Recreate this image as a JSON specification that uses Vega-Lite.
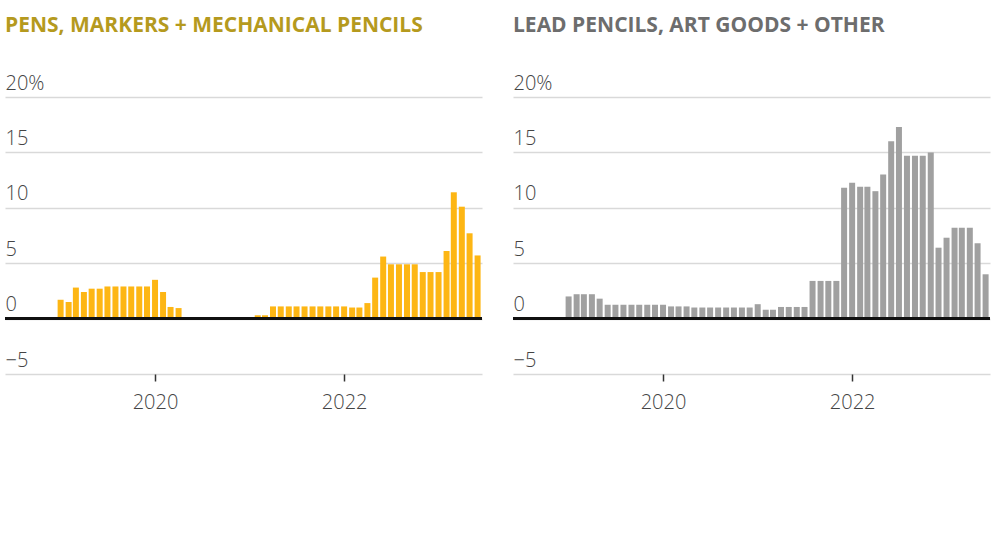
{
  "$schema": "https://vega.github.io/schema/vega-lite/v6.json",
  "padding": {"left": 4, "top": 15, "right": 0, "bottom": 12},
  "spacing": 29,
  "background": "white",
  "config": {
    "view": {"stroke": null},
    "font": "Open Sans",
    "title": {"anchor": "start", "fontSize": 21, "fontWeight": "bold", "font": "Open Sans", "offset": 37, "frame": "group"},
    "axisY": {"values": [-5, 0, 5, 10, 15, 20], "domain": false, "ticks": false, "tickSize": 0, "labelAlign": "left", "labelBaseline": "alphabetic", "labelPadding": 0, "labelOffset": -8, "gridColor": "#d9d9d9", "gridWidth": 1.5, "labelFontSize": 20, "labelColor": "#444444", "labelFont": "Open Sans", "labelFontWeight": 300, "title": null},
    "axisX": {"domain": false, "grid": false, "ticks": true, "tickColor": "#333333", "tickSize": 7, "tickWidth": 1.5, "labelFontSize": 20, "labelColor": "#444444", "labelFont": "Open Sans", "labelFontWeight": 300, "labelPadding": 11, "title": null}
  },
  "datasets": {
    "pens": [
      {"date": "2019-01-01", "value": 1.7}, {"date": "2019-02-01", "value": 1.5}, {"date": "2019-03-01", "value": 2.8}, {"date": "2019-04-01", "value": 2.4},
      {"date": "2019-05-01", "value": 2.7}, {"date": "2019-06-01", "value": 2.7}, {"date": "2019-07-01", "value": 2.9}, {"date": "2019-08-01", "value": 2.9},
      {"date": "2019-09-01", "value": 2.9}, {"date": "2019-10-01", "value": 2.9}, {"date": "2019-11-01", "value": 2.9}, {"date": "2019-12-01", "value": 2.9},
      {"date": "2020-01-01", "value": 3.5}, {"date": "2020-02-01", "value": 2.4}, {"date": "2020-03-01", "value": 1.05}, {"date": "2020-04-01", "value": 0.95},
      {"date": "2020-05-01", "value": 0.1}, {"date": "2020-06-01", "value": 0.1}, {"date": "2020-07-01", "value": 0.1}, {"date": "2020-08-01", "value": 0.1},
      {"date": "2020-09-01", "value": 0.1}, {"date": "2020-10-01", "value": 0.1}, {"date": "2020-11-01", "value": 0.1}, {"date": "2020-12-01", "value": 0.1},
      {"date": "2021-01-01", "value": 0.1}, {"date": "2021-02-01", "value": 0.3}, {"date": "2021-03-01", "value": 0.3}, {"date": "2021-04-01", "value": 1.1},
      {"date": "2021-05-01", "value": 1.1}, {"date": "2021-06-01", "value": 1.1}, {"date": "2021-07-01", "value": 1.1}, {"date": "2021-08-01", "value": 1.1},
      {"date": "2021-09-01", "value": 1.1}, {"date": "2021-10-01", "value": 1.1}, {"date": "2021-11-01", "value": 1.1}, {"date": "2021-12-01", "value": 1.1},
      {"date": "2022-01-01", "value": 1.1}, {"date": "2022-02-01", "value": 1.0}, {"date": "2022-03-01", "value": 1.0}, {"date": "2022-04-01", "value": 1.4},
      {"date": "2022-05-01", "value": 3.7}, {"date": "2022-06-01", "value": 5.6}, {"date": "2022-07-01", "value": 4.9}, {"date": "2022-08-01", "value": 4.9},
      {"date": "2022-09-01", "value": 4.9}, {"date": "2022-10-01", "value": 4.9}, {"date": "2022-11-01", "value": 4.2}, {"date": "2022-12-01", "value": 4.2},
      {"date": "2023-01-01", "value": 4.2}, {"date": "2023-02-01", "value": 6.1}, {"date": "2023-03-01", "value": 11.4}, {"date": "2023-04-01", "value": 10.1},
      {"date": "2023-05-01", "value": 7.7}, {"date": "2023-06-01", "value": 5.7}
    ],
    "lead": [
      {"date": "2019-01-01", "value": 2.0}, {"date": "2019-02-01", "value": 2.2}, {"date": "2019-03-01", "value": 2.2}, {"date": "2019-04-01", "value": 2.2},
      {"date": "2019-05-01", "value": 1.8}, {"date": "2019-06-01", "value": 1.25}, {"date": "2019-07-01", "value": 1.25}, {"date": "2019-08-01", "value": 1.25},
      {"date": "2019-09-01", "value": 1.25}, {"date": "2019-10-01", "value": 1.25}, {"date": "2019-11-01", "value": 1.25}, {"date": "2019-12-01", "value": 1.25},
      {"date": "2020-01-01", "value": 1.25}, {"date": "2020-02-01", "value": 1.1}, {"date": "2020-03-01", "value": 1.1}, {"date": "2020-04-01", "value": 1.1},
      {"date": "2020-05-01", "value": 1.0}, {"date": "2020-06-01", "value": 1.0}, {"date": "2020-07-01", "value": 1.0}, {"date": "2020-08-01", "value": 1.0},
      {"date": "2020-09-01", "value": 1.0}, {"date": "2020-10-01", "value": 1.0}, {"date": "2020-11-01", "value": 1.0}, {"date": "2020-12-01", "value": 1.0},
      {"date": "2021-01-01", "value": 1.3}, {"date": "2021-02-01", "value": 0.8}, {"date": "2021-03-01", "value": 0.8}, {"date": "2021-04-01", "value": 1.05},
      {"date": "2021-05-01", "value": 1.05}, {"date": "2021-06-01", "value": 1.05}, {"date": "2021-07-01", "value": 1.05}, {"date": "2021-08-01", "value": 3.4},
      {"date": "2021-09-01", "value": 3.4}, {"date": "2021-10-01", "value": 3.4}, {"date": "2021-11-01", "value": 3.4}, {"date": "2021-12-01", "value": 11.8},
      {"date": "2022-01-01", "value": 12.25}, {"date": "2022-02-01", "value": 11.9}, {"date": "2022-03-01", "value": 11.9}, {"date": "2022-04-01", "value": 11.5},
      {"date": "2022-05-01", "value": 13.0}, {"date": "2022-06-01", "value": 16.0}, {"date": "2022-07-01", "value": 17.3}, {"date": "2022-08-01", "value": 14.7},
      {"date": "2022-09-01", "value": 14.7}, {"date": "2022-10-01", "value": 14.7}, {"date": "2022-11-01", "value": 15.0}, {"date": "2022-12-01", "value": 6.4},
      {"date": "2023-01-01", "value": 7.3}, {"date": "2023-02-01", "value": 8.2}, {"date": "2023-03-01", "value": 8.2}, {"date": "2023-04-01", "value": 8.2},
      {"date": "2023-05-01", "value": 6.8}, {"date": "2023-06-01", "value": 4.0}
    ]
  },
  "hconcat": [
    {
      "width": 477,
      "height": 277,
      "title": {"text": "PENS, MARKERS + MECHANICAL PENCILS", "color": "#b59a1e"},
      "data": {"name": "pens"},
      "layer": [
        {
          "mark": {"type": "bar", "color": "#fdb614", "size": 6},
          "encoding": {
            "x": {"field": "date", "type": "temporal", "scale": {"nice": false, "padding": 0, "domain": [{"year": 2018, "month": 5, "date": 31}, {"year": 2023, "month": 6, "date": 18}]}, "axis": {"values": [{"year": 2020, "month": 1, "date": 1}, {"year": 2022, "month": 1, "date": 1}], "format": "%Y"}},
            "y": {"field": "value", "type": "quantitative", "scale": {"domain": [-5, 20], "nice": false}, "axis": {"labelExpr": "datum.value == 20 ? '20%' : datum.value < 0 ? '\u22125' : datum.label"}}
          }
        },
        {
          "mark": {"type": "rule", "color": "#111111", "strokeWidth": 2},
          "encoding": {"y": {"datum": 0, "type": "quantitative"}}
        }
      ]
    },
    {
      "width": 477,
      "height": 277,
      "title": {"text": "LEAD PENCILS, ART GOODS + OTHER", "color": "#6d6d6d"},
      "data": {"name": "lead"},
      "layer": [
        {
          "mark": {"type": "bar", "color": "#a0a0a0", "size": 6},
          "encoding": {
            "x": {"field": "date", "type": "temporal", "scale": {"nice": false, "padding": 0, "domain": [{"year": 2018, "month": 5, "date": 31}, {"year": 2023, "month": 6, "date": 18}]}, "axis": {"values": [{"year": 2020, "month": 1, "date": 1}, {"year": 2022, "month": 1, "date": 1}], "format": "%Y"}},
            "y": {"field": "value", "type": "quantitative", "scale": {"domain": [-5, 20], "nice": false}, "axis": {"labelExpr": "datum.value == 20 ? '20%' : datum.value < 0 ? '\u22125' : datum.label"}}
          }
        },
        {
          "mark": {"type": "rule", "color": "#111111", "strokeWidth": 2},
          "encoding": {"y": {"datum": 0, "type": "quantitative"}}
        }
      ]
    }
  ]
}
